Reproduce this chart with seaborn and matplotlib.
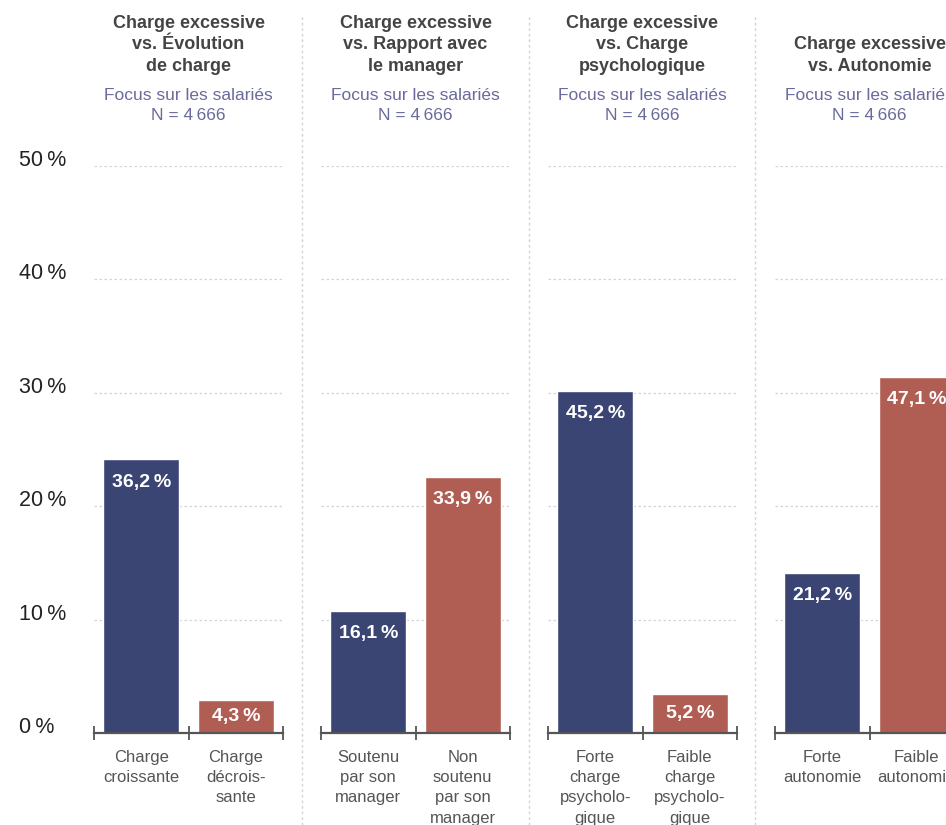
import matplotlib
matplotlib.use("Agg")
import matplotlib.pyplot as plt
import seaborn as sns
from matplotlib.lines import Line2D

# données
panel_titles = [
    "Charge excessive\nvs. Évolution\nde charge",
    "Charge excessive\nvs. Rapport avec\nle manager",
    "Charge excessive\nvs. Charge\npsychologique",
    "Charge excessive\nvs. Autonomie",
]
subtitle = "Focus sur les salariés\nN = 4\u202f666"
cat_labels = [
    ["Charge\ncroissante", "Charge\ndécrois-\nsante"],
    ["Soutenu\npar son\nmanager", "Non\nsoutenu\npar son\nmanager"],
    ["Forte\ncharge\npsycholo-\ngique", "Faible\ncharge\npsycholo-\ngique"],
    ["Forte\nautonomie", "Faible\nautonomie"],
]
values = [[36.2, 4.3], [16.1, 33.9], [45.2, 5.2], [21.2, 47.1]]
ytick_values = [0, 10, 20, 30, 40, 50]
ytick_labels = ["0\u202f%", "10\u202f%", "20\u202f%", "30\u202f%", "40\u202f%", "50\u202f%"]
# dans l'original, l'axe gradué est à l'échelle 2/3 des barres
axis_scale = 1.5

navy = "#3a4574"
red = "#b05e54"

sns.set_theme(style="white")
plt.rcParams["font.family"] = ["Liberation Sans", "DejaVu Sans"]

W, H = 946, 825
fig = plt.figure(figsize=(W / 100, H / 100), dpi=100)

for k in range(4):
    ax = fig.add_axes([(94 + 227 * k) / W, 92 / H, 189 / W, 567 / H])
    cats = cat_labels[k]
    vals = values[k]
    sns.barplot(x=cats, y=vals, hue=cats, palette=[navy, red], legend=False,
                width=0.8, saturation=1, ax=ax)
    ax.set_xlim(-0.5, 1.5)
    ax.set_ylim(0, 50 * axis_scale)
    ax.set_yticks([t * axis_scale for t in ytick_values])
    ax.yaxis.grid(True, linestyle=(0, (2, 2)), color="#d4d4d4", linewidth=0.9)
    ax.set_axisbelow(True)
    for s in ["top", "right", "left"]:
        ax.spines[s].set_visible(False)
    ax.spines["bottom"].set_color("#555555")
    ax.spines["bottom"].set_linewidth(1.6)
    ax.set_xticks([0, 1])
    ax.set_xticklabels(cats, color="#555555", fontsize=12, linespacing=1.45)
    ax.set_xticks([-0.5, 0.5, 1.5], minor=True)
    ax.tick_params(axis="x", which="major", length=0, pad=12)
    ax.tick_params(axis="x", which="minor", bottom=True, direction="inout",
                   length=10, width=1.3, color="#555555")
    ax.tick_params(axis="y", length=0)
    if k == 0:
        ax.set_yticklabels(ytick_labels, fontsize=15.5, color="#222222", ha="left")
        ax.tick_params(axis="y", pad=54)
        for lab in ax.get_yticklabels():
            lab.set_va("baseline")
    else:
        ax.set_yticklabels([])
    ax.set_xlabel("")
    ax.set_ylabel("")

    for i, v in enumerate(vals):
        ax.text(i, max(v - 3.0, v / 2), f"{v:.1f}".replace(".", ",") + "\u202f%",
                ha="center", va="center", color="white", fontsize=14, fontweight="bold")

    cx = (94 + 227 * k + 94.5) / W
    fig.text(cx, (H - 75) / H, panel_titles[k], ha="center", va="bottom",
             multialignment="center", fontsize=13, fontweight="bold",
             color="#444444", linespacing=1.35)
    fig.text(cx, (H - 88) / H, subtitle, ha="center", va="top",
             multialignment="center", fontsize=12.5, color="#6a6a9c", linespacing=1.45)

for xs in [302, 529, 755]:
    fig.add_artist(Line2D([xs / W, xs / W], [0, (H - 16) / H], transform=fig.transFigure,
                          linestyle=(0, (2, 2)), color="#d4d4d4", linewidth=1))

fig.savefig("out.png", dpi=100)
